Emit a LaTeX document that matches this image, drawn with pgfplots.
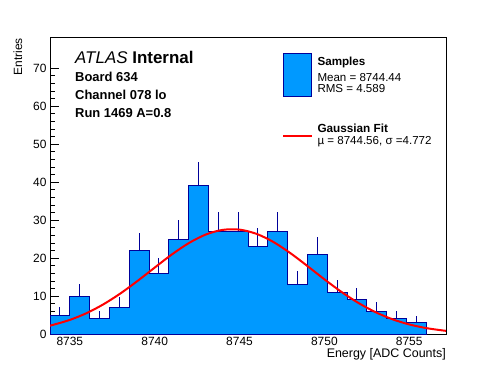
\documentclass[border=0pt]{standalone}
\usepackage{fontspec}
\setmainfont{Liberation Sans}
\usepackage{pgfplots}
\pgfplotsset{compat=1.18}
\definecolor{histfill}{RGB}{0,153,255}
\definecolor{histline}{RGB}{0,0,153}
\begin{document}
\begin{tikzpicture}[x=1bp,y=1bp]
\useasboundingbox (0,0) rectangle (496,372);
\begin{axis}[
  at={(50bp,38bp)}, anchor=south west,
  width=396bp, height=297bp, scale only axis,
  xmin=8733.8333, xmax=8757.1667, ymin=0, ymax=78.2,
  xtick={8735,8740,8745,8750,8755}, minor x tick num=4,
  ytick={0,10,20,30,40,50,60,70}, minor y tick num=4,
  xtick pos=bottom, ytick pos=left, tick align=inside,
  major tick length=9bp, minor tick length=4.5bp,
  every tick/.style={black, line width=0.6bp},
  axis line style={line width=0.8bp},
  /pgf/number format/assume math mode=true,
  /pgf/number format/1000 sep={},
  tick label style={font=\fontsize{12}{13}\selectfont},
  clip=true,
]
% histogram (bin lower edges, contents); last point closes final bin
\addplot[const plot, fill=histfill, draw=histline, line width=1bp] coordinates {
(8733.8333,5) (8735.0000,10) (8736.1667,4) (8737.3333,7) (8738.5000,22)
(8739.6667,16) (8740.8333,25) (8742.0000,39) (8743.1667,27) (8744.3333,27)
(8745.5000,23) (8746.6667,27) (8747.8333,13) (8749.0000,21) (8750.1667,11)
(8751.3333,9) (8752.5000,6) (8753.6667,4) (8754.8333,3) (8756.0000,3)
} \closedcycle;
% statistical errors (upper part visible above the filled bars)
\addplot[draw=none, mark=none, error bars/.cd, y dir=plus, y explicit,
  error mark=none, error bar style={draw=histline, line width=1bp}] coordinates {
(8734.4167,5) +- (0,2.236)
(8735.5833,10) +- (0,3.162)
(8736.7500,4) +- (0,2.000)
(8737.9167,7) +- (0,2.646)
(8739.0833,22) +- (0,4.690)
(8740.2500,16) +- (0,4.000)
(8741.4167,25) +- (0,5.000)
(8742.5833,39) +- (0,6.245)
(8743.7500,27) +- (0,5.196)
(8744.9167,27) +- (0,5.196)
(8746.0833,23) +- (0,4.796)
(8747.2500,27) +- (0,5.196)
(8748.4167,13) +- (0,3.606)
(8749.5833,21) +- (0,4.583)
(8750.7500,11) +- (0,3.317)
(8751.9167,9) +- (0,3.000)
(8753.0833,6) +- (0,2.449)
(8754.2500,4) +- (0,2.000)
(8755.4167,3) +- (0,1.732)
};
% Gaussian fit curve (tabulated)
\addplot[red, line width=2bp, smooth] coordinates {
(8733.83,2.20) (8734,2.39) (8735,3.71) (8736,5.52) (8737,7.87) (8738,10.73)
(8739,14.00) (8740,17.48) (8741,20.90) (8742,23.90) (8743,26.17) (8744,27.41)
(8745,27.48) (8746,26.37) (8747,24.22) (8748,21.28) (8749,17.90) (8750,14.41)
(8751,11.10) (8752,8.19) (8753,5.78) (8754,3.90) (8755,2.52) (8756,1.56)
(8757,0.92) (8757.17,0.84)
};
\end{axis}
% top frame and right frame line
\draw[line width=0.8bp] (50,335) -- (446,335) -- (446,38);
% ATLAS label
\node[anchor=base west, inner sep=0] at (75,309) {\fontsize{17}{19}\selectfont\textit{ATLAS} \textbf{Internal}};
\node[anchor=base west, inner sep=0] at (75,291) {\fontsize{13}{15}\selectfont\textbf{Board 634}};
\node[anchor=base west, inner sep=0] at (75,273) {\fontsize{13}{15}\selectfont\textbf{Channel 078 lo}};
\node[anchor=base west, inner sep=0] at (75,255) {\fontsize{13}{15}\selectfont\textbf{Run 1469 A=0.8}};
% legend
\filldraw[fill=histfill, draw=histline, line width=1bp] (283.3,275.3) rectangle (311.7,318.7);
\node[anchor=base west, inner sep=0] at (317.3,307) {\fontsize{11.7}{13}\selectfont\textbf{Samples}};
\node[anchor=base west, inner sep=0] at (317.3,291) {\fontsize{11.6}{13}\selectfont Mean = 8744.44};
\node[anchor=base west, inner sep=0] at (317.3,279.3) {\fontsize{11.6}{13}\selectfont RMS = 4.589};
\draw[red, line width=2bp] (283.3,236) -- (311.7,236);
\node[anchor=base west, inner sep=0] at (317.3,239.3) {\fontsize{11.8}{13}\selectfont\textbf{Gaussian Fit}};
\node[anchor=base west, inner sep=0] at (317.3,227.7) {\fontsize{11.6}{13}\selectfont µ = 8744.56, σ =4.772};
% axis titles
\node[anchor=base east, inner sep=0] at (446,15) {\fontsize{12.5}{14}\selectfont Energy [ADC Counts]};
\node[anchor=base east, rotate=90, inner sep=0] at (22,334) {\fontsize{12}{14}\selectfont Entries};
\end{tikzpicture}
\end{document}
